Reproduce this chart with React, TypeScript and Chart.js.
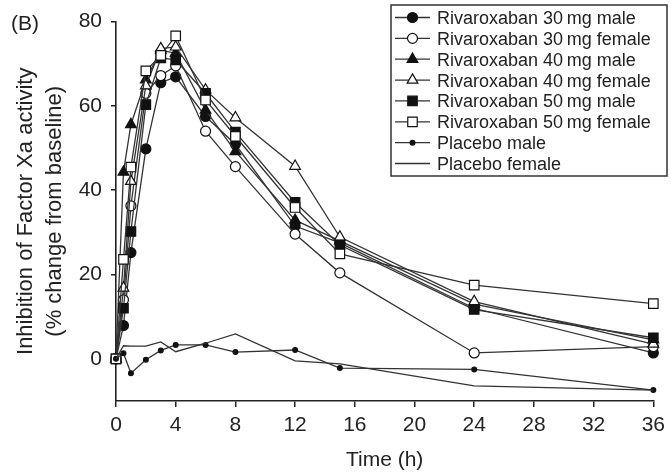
import React, { useEffect, useRef } from 'react';
import { Chart, registerables } from 'chart.js';

Chart.register(...registerables);

// ---- data ----
const times = [0, 0.5, 1, 2, 3, 4, 6, 8, 12, 15, 24, 36];

const r30Male = [0, 7.9, 25.2, 49.8, 65.5, 66.9, 57.5, 50.9, 31.5, 27.5, 12.0, 1.4];
const r30Female = [0, 14, 36.3, 63, 67.2, 69.5, 54, 45.6, 29.6, 20.4, 1.4, 2.9];
const r40Male = [0, 44.3, 55.6, 66.2, 73.2, 72.5, 59, 49.2, 32.9, 28, 13, 4.5];
const r40Female = [0, 16.8, 42.1, 64.8, 73.6, 74, 63.8, 57.2, 45.7, 28.9, 13.6, 3.5];
const r50Male = [0, 12, 30.2, 60.3, 71.4, 70.9, 63, 53.8, 37.1, 27, 11.7, 5.0];
const r50Female = [0, 23.6, 45.5, 68.3, 72, 76.6, 61.4, 52.8, 35.9, 24.9, 17.5, 13.1];
const placeboMale = [0, 1.3, -3.4, -0.2, 2.0, 3.3, 3.3, 1.6, 2.1, -2.2, -2.5, -7.4];
const placeboFemale = [0, 3.1, 3.0, 3.0, 4.0, 1.7, 3.7, 5.9, -0.5, -1.2, -6.4, -7.4];

const seriesLabels = [
  'Rivaroxaban 30\u2009mg male',
  'Rivaroxaban 30\u2009mg female',
  'Rivaroxaban 40\u2009mg male',
  'Rivaroxaban 40\u2009mg female',
  'Rivaroxaban 50\u2009mg male',
  'Rivaroxaban 50\u2009mg female',
  'Placebo male',
  'Placebo female',
];
const seriesValues = [r30Male, r30Female, r40Male, r40Female, r50Male, r50Female, placeboMale, placeboFemale];

const xTickValues = [0, 4, 8, 12, 16, 20, 24, 28, 32, 36];
const yTickValues = [0, 20, 40, 60, 80];

const panelLabel = '(B)';
const xTitle = 'Time (h)';
const yTitle = ['Inhibition of Factor Xa activity', '(% change from baseline)'];

// ---- styles ----
const FONT = "'Liberation Sans', Arial, Helvetica, sans-serif";
const LINE = '#333';
const INK = '#111';
const TEXT = '#222';

type Marker = 'circle' | 'triangle' | 'rect' | 'dot' | 'none';
const markers: Marker[] = ['circle', 'circle', 'triangle', 'triangle', 'rect', 'rect', 'dot', 'none'];
const filled = [true, false, true, false, true, false, true, false];
const radii: Record<Marker, number> = { circle: 5, triangle: 6.2, rect: 6.7, dot: 2.4, none: 0 };

function drawMarker(ctx: CanvasRenderingContext2D, m: Marker, x: number, y: number, fill: boolean) {
  if (m === 'none') return;
  const r = radii[m];
  ctx.beginPath();
  if (m === 'circle' || m === 'dot') {
    ctx.arc(x, y, r, 0, Math.PI * 2);
  } else if (m === 'rect') {
    const s = r * Math.SQRT1_2;
    ctx.rect(x - s, y - s, 2 * s, 2 * s);
  } else if (m === 'triangle') {
    let a = 0;
    for (let k = 0; k < 3; k++) {
      const px = x + Math.sin(a) * r;
      const py = y - Math.cos(a) * r;
      if (k === 0) ctx.moveTo(px, py);
      else ctx.lineTo(px, py);
      a += (2 * Math.PI) / 3;
    }
    ctx.closePath();
  }
  ctx.fillStyle = fill ? INK : '#fff';
  ctx.fill();
  ctx.lineWidth = 1.2;
  ctx.strokeStyle = INK;
  ctx.stroke();
}

const overlayPlugin = {
  id: 'overlay',
  afterDraw(chart: any) {
    const ctx: CanvasRenderingContext2D = chart.ctx;
    ctx.save();
    // panel label
    ctx.font = `21px ${FONT}`;
    ctx.fillStyle = TEXT;
    ctx.textBaseline = 'alphabetic';
    ctx.textAlign = 'left';
    ctx.fillText(panelLabel, 11, 30);

    // legend box
    const bx = 391, by = 5, bw = 276, bh = 171;
    ctx.fillStyle = '#fff';
    ctx.fillRect(bx, by, bw, bh);
    ctx.lineWidth = 1.5;
    ctx.strokeStyle = '#333';
    ctx.strokeRect(bx, by, bw, bh);

    ctx.font = `18px ${FONT}`;
    seriesLabels.forEach((label, i) => {
      const yb = 24 + i * 20.86;
      const ym = yb - 6.5;
      ctx.beginPath();
      ctx.moveTo(395, ym);
      ctx.lineTo(430, ym);
      ctx.lineWidth = 1.3;
      ctx.strokeStyle = LINE;
      ctx.stroke();
      drawMarker(ctx, markers[i], 412.5, ym, filled[i]);
      ctx.fillStyle = TEXT;
      ctx.fillText(label, 437, yb);
    });
    ctx.restore();
  },
};

export default function App() {
  const ref = useRef<HTMLCanvasElement | null>(null);

  useEffect(() => {
    if (!ref.current) return;
    const datasets = seriesValues.map((vals, i) => {
      const m = markers[i];
      return {
        label: seriesLabels[i],
        data: times.map((t, j) => ({ x: t, y: vals[j] })),
        borderColor: LINE,
        borderWidth: 1.3,
        pointStyle: m === 'rect' ? 'rect' : m === 'triangle' ? 'triangle' : 'circle',
        pointRadius: radii[m],
        pointBackgroundColor: filled[i] ? INK : '#fff',
        pointBorderColor: INK,
        pointBorderWidth: 1.2,
        tension: 0,
        fill: false,
        clip: false as any,
        order: 8 - i,
      };
    });

    const chart = new Chart(ref.current, {
      type: 'line',
      data: { datasets },
      plugins: [overlayPlugin],
      options: {
        responsive: false,
        animation: false,
        devicePixelRatio: 1,
        layout: { padding: { top: 21, right: 13, left: 0, bottom: 0 } },
        plugins: { legend: { display: false }, tooltip: { enabled: false } },
        scales: {
          x: {
            type: 'linear',
            min: 0,
            max: 36,
            afterBuildTicks: (s: any) => {
              s.ticks = xTickValues.map((v) => ({ value: v }));
            },
            afterFit: (s: any) => {
              s.height = 71;
            },
            ticks: {
              font: { family: FONT, size: 21 },
              color: TEXT,
              padding: 6,
              maxRotation: 0,
              autoSkip: false,
            },
            grid: { drawOnChartArea: false, drawTicks: true, tickLength: 6, color: '#222', lineWidth: 1.5 },
            border: { display: true, color: '#222', width: 1.6 },
            title: {
              display: true,
              text: xTitle,
              font: { family: FONT, size: 21, lineHeight: 1 },
              color: TEXT,
              padding: { top: 0, bottom: 1 },
            },
          },
          y: {
            type: 'linear',
            min: -10,
            max: 80,
            afterBuildTicks: (s: any) => {
              s.ticks = yTickValues.map((v) => ({ value: v }));
            },
            afterFit: (s: any) => {
              s.width = 116;
            },
            ticks: {
              font: { family: FONT, size: 21 },
              color: TEXT,
              padding: 9,
            },
            grid: { drawOnChartArea: false, drawTicks: true, tickLength: 5, color: '#222', lineWidth: 1.5 },
            border: { display: true, color: '#222', width: 1.6 },
            title: {
              display: true,
              text: yTitle,
              font: { family: FONT, size: 22, lineHeight: '29px' as any },
              color: TEXT,
              padding: { top: 11, bottom: 0 },
            },
          },
        },
      },
    });
    return () => chart.destroy();
  }, []);

  return (
    <div style={{ position: 'absolute', left: 0, top: 0, width: 671, height: 472, background: '#fff' }}>
      <canvas ref={ref} width={671} height={472} style={{ width: 671, height: 472, display: 'block' }} />
    </div>
  );
}
